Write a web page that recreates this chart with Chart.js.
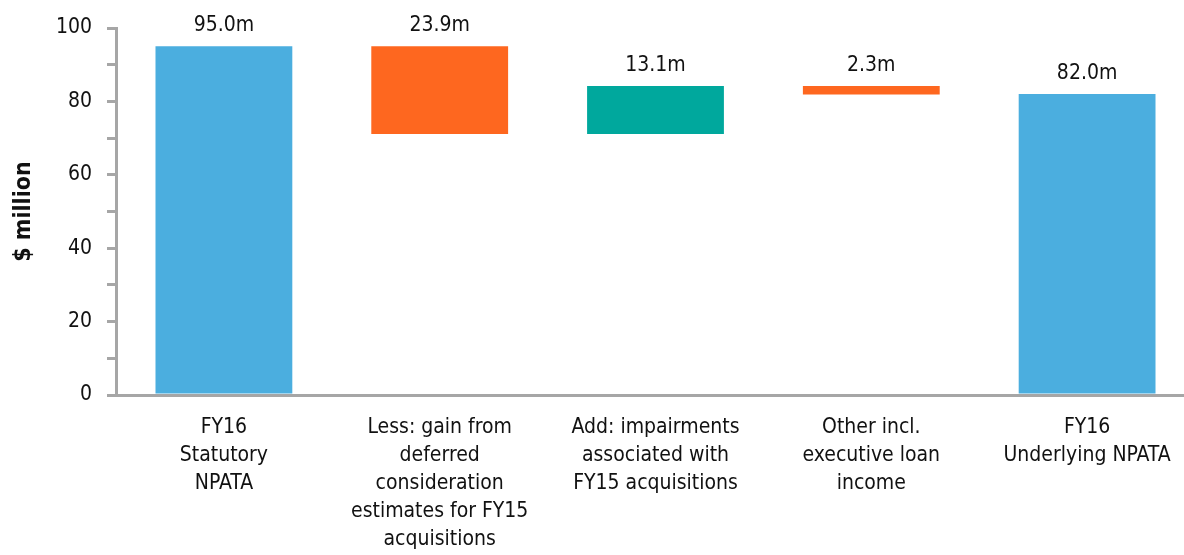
<!DOCTYPE html>
<html>
<head>
<meta charset="utf-8">
<script src="https://cdn.jsdelivr.net/npm/chart.js@4/dist/chart.umd.min.js"></script>
<style>
html,body{margin:0;padding:0;background:#fff;overflow:hidden;}
#wrap{width:1196px;height:555px;position:relative;}
</style>
</head>
<body>
<div id="wrap"><canvas id="c"></canvas></div>
<script>
const categories = [
  ["FY16", "Statutory", "NPATA"],
  ["Less: gain from", "deferred", "consideration", "estimates for FY15", "acquisitions"],
  ["Add: impairments", "associated with", "FY15 acquisitions"],
  ["Other incl.", "executive loan", "income"],
  ["FY16", "Underlying NPATA"]
];
const barStarts = [0, 71.1, 71.1, 81.9, 0];
const barEnds = [95.0, 95.0, 84.2, 84.2, 82.0];
const labelValues = [95.0, 23.9, 13.1, 2.3, 82.0];
const barColors = ["#4BAEDF", "#FE671F", "#00A89D", "#FE671F", "#4BAEDF"];
const yTicks = [0, 20, 40, 60, 80, 100];

const FONT = "'DejaVu Sans Condensed', 'DejaVu Sans', sans-serif";
const AXIS = "#a6a6a6";

const labelPlugin = {
  id: 'valueLabels',
  afterDatasetsDraw(chart) {
    const ctx = chart.ctx;
    const meta = chart.getDatasetMeta(0);
    ctx.save();
    ctx.font = "21px " + FONT;
    ctx.fillStyle = "#111";
    ctx.textAlign = "center";
    ctx.textBaseline = "bottom";
    meta.data.forEach((bar, i) => {
      const top = chart.scales.y.getPixelForValue(barEnds[i]);
      ctx.fillText(labelValues[i].toFixed(1) + "m", bar.x, top - 10);
    });
    ctx.restore();
  }
};

new Chart(document.getElementById('c'), {
  type: 'bar',
  data: {
    labels: categories,
    datasets: [{
      data: barStarts.map((s, i) => [s, barEnds[i]]),
      backgroundColor: barColors,
      borderWidth: 0,
      barPercentage: 0.634,
      categoryPercentage: 1.0
    }]
  },
  options: {
    responsive: true,
    maintainAspectRatio: false,
    animation: false,
    layout: { padding: { top: 28, right: 1, left: 0, bottom: 0 } },
    plugins: { legend: { display: false }, tooltip: { enabled: false } },
    scales: {
      x: {
        grid: { display: false, drawTicks: false },
        border: { display: true, color: AXIS, width: 3 },
        ticks: {
          color: "#111",
          font: { family: FONT, size: 21, lineHeight: 1.333 },
          padding: 19,
          maxRotation: 0,
          autoSkip: false
        },
        afterFit(s) { s.height = 160; }
      },
      y: {
        min: 0,
        max: 100,
        grid: { display: true, drawOnChartArea: false, drawTicks: true, tickLength: 9, color: AXIS, lineWidth: 3 },
        border: { display: true, color: AXIS, width: 3 },
        ticks: {
          stepSize: 10,
          color: "#111",
          font: { family: FONT, size: 21 },
          padding: 15,
          callback: (v) => yTicks.includes(v) ? String(v) : ''
        },
        title: {
          display: true,
          text: "$ million",
          color: "#111",
          font: { family: FONT, size: 23, weight: 'bold' },
          padding: { top: 10, bottom: 0 }
        },
        afterFit(s) { s.width = 116; }
      }
    }
  },
  plugins: [labelPlugin]
});
</script>
</body>
</html>
